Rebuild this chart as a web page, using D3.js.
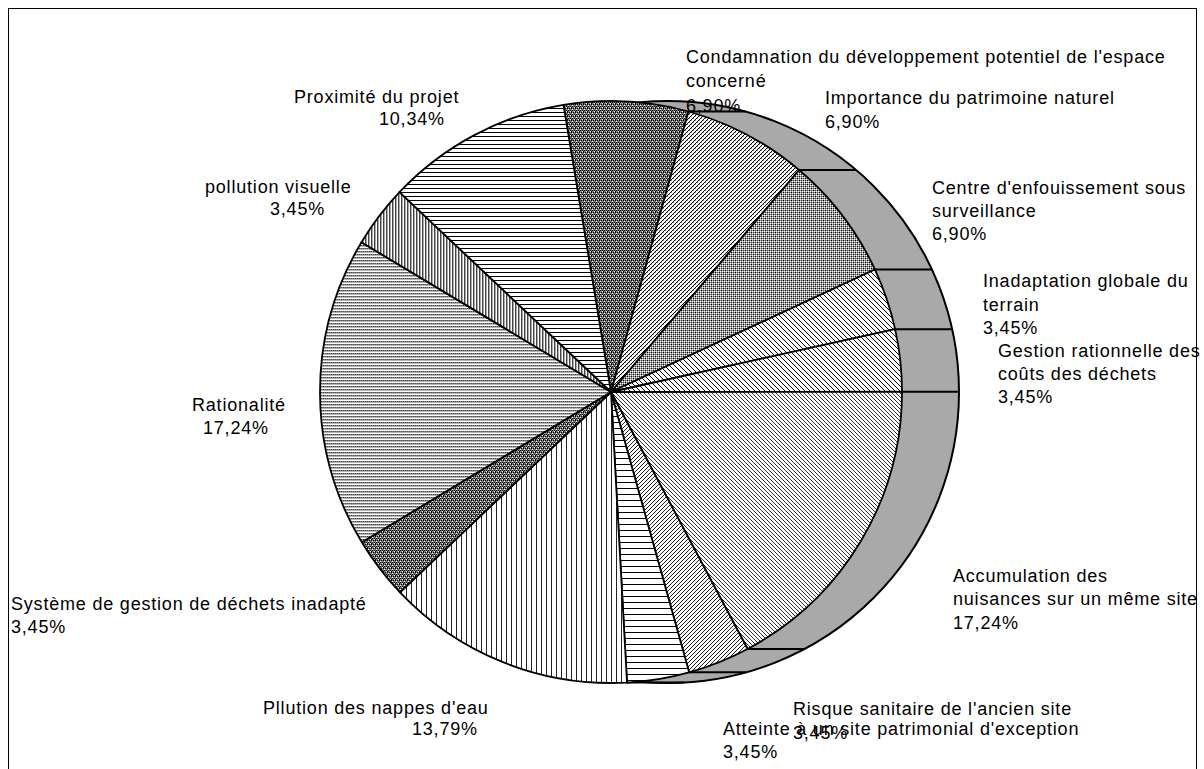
<!DOCTYPE html>
<html>
<head>
<meta charset="utf-8">
<script src="https://cdn.jsdelivr.net/npm/d3@7"></script>
<style>
  html, body { margin: 0; padding: 0; background: #fff; }
  svg { display: block; }
  .lbl { font-family: "Liberation Sans", Arial, sans-serif; font-size: 18px; letter-spacing: 0.8px; fill: #000; }
</style>
</head>
<body>
<svg id="chart" width="1204" height="769"></svg>
<script>
// ---- data ----------------------------------------------------------------
const categories = [
  "Condamnation du développement potentiel de l'espace concerné",
  "Importance du patrimoine naturel",
  "Centre d'enfouissement sous surveillance",
  "Inadaptation globale du terrain",
  "Gestion rationnelle des coûts des déchets",
  "Accumulation des nuisances sur un même site",
  "Risque sanitaire de l'ancien site",
  "Atteinte à un site patrimonial d'exception",
  "Pllution des nappes d'eau",
  "Système de gestion de déchets inadapté",
  "Rationalité",
  "pollution visuelle",
  "Proximité du projet"
];
const shares = [6.90, 6.90, 6.90, 3.45, 3.45, 17.24, 3.45, 3.45, 13.79, 3.45, 17.24, 3.45, 10.34];
// number of words kept on the first label line (rest wraps to a second line)
const firstLineWords = [6, 4, 3, 3, 3, 2, 5, 6, 4, 6, 1, 2, 3];

// ---- layout --------------------------------------------------------------
const W = 1204, H = 769;
const cx = 611, cy = 392, R = 291;     // pie face
const depth = 57;                       // horizontal extrusion of the side wall
const firstSliceDeg = -9.4;

// text line anchors: [x, baseline] for each text line, percentage last
const labelPos = [
  [[686, 63], [686, 87], [686, 111.5]],
  [[825, 103.5], [825, 127.5]],
  [[932, 193.5], [932, 216.5], [932, 240]],
  [[983, 287], [983, 310.5], [983, 334]],
  [[998, 356.5], [998, 380], [998, 403]],
  [[953, 581.5], [953, 605], [953, 628.5]],
  [[793, 715], [793, 738.5]],
  [[723, 734.5], [723, 757.5]],
  [[263, 713.5], [412, 735]],
  [[11, 610], [11, 633]],
  [[192, 411], [203, 434]],
  [[205, 192.5], [270, 214.5]],
  [[294, 102.5], [379, 124.5]]
];

// fill patterns: size, background and pixel rectangles [x, y, w, h, colour]
const diag = (n, up, col) => d3.range(n).map(i => [up ? n - 1 - i : i, i, 1, 1, col]);
const darkCheck = { w: 4, h: 4, bg: "#7a7a7a", px: [[0,0,1,1,"#000"],[2,0,1,1,"#000"],[1,2,1,1,"#000"],[3,2,1,1,"#000"],[0,3,1,1,"#000"],[1,1,1,1,"#fff"],[3,3,1,1,"#fff"]] };
const patternSpecs = [
  darkCheck,
  { w: 4, h: 4, bg: "#fff", px: diag(4, true, "#000").concat([[0,0,1,1,"#999"],[2,2,1,1,"#999"]]) },
  { w: 4, h: 4, bg: "#9a9a9a", px: [[0,0,1,1,"#000"],[2,2,1,1,"#000"],[2,0,1,1,"#444"],[0,2,1,1,"#444"],[1,1,1,1,"#fff"],[3,3,1,1,"#fff"],[1,3,1,1,"#fff"],[3,1,1,1,"#fff"]] },
  { w: 5, h: 5, bg: "#fff", px: diag(5, false, "#000") },
  { w: 5, h: 5, bg: "#fff", px: diag(5, false, "#000") },
  { w: 4, h: 4, bg: "#fff", px: diag(4, false, "#333") },
  { w: 4, h: 4, bg: "#fff", px: diag(4, true, "#222") },
  { w: 6, h: 6, bg: "#fff", px: [[0,0,6,1,"#000"]] },
  { w: 5, h: 5, bg: "#fff", px: [[0,0,1,5,"#222"]] },
  darkCheck,
  { w: 4, h: 3, bg: "#fff", px: [[0,0,1,1,"#444"],[1,0,1,1,"#888"],[2,0,1,1,"#444"],[3,0,1,1,"#888"],[0,1,4,1,"#b5b5b5"]] },
  { w: 3, h: 3, bg: "#fff", px: [[0,0,1,3,"#444"],[1,0,1,3,"#aaa"]] },
  { w: 4, h: 4, bg: "#fff", px: [[0,0,4,1,"#000"]] }
];

const fmtPct = v => d3.format(".2f")(v).replace(".", ",") + "%";

// ---- drawing -------------------------------------------------------------
const svg = d3.select("#chart");
const defs = svg.append("defs");

patternSpecs.forEach((p, i) => {
  const pat = defs.append("pattern")
    .attr("id", "fill" + i)
    .attr("patternUnits", "userSpaceOnUse")
    .attr("width", p.w).attr("height", p.h);
  pat.append("rect").attr("width", p.w).attr("height", p.h).attr("fill", p.bg);
  pat.selectAll("rect.px").data(p.px).join("rect")
    .attr("class", "px")
    .attr("x", d => d[0]).attr("y", d => d[1])
    .attr("width", d => d[2]).attr("height", d => d[3])
    .attr("fill", d => d[4])
    .attr("shape-rendering", "crispEdges");
});

// chart frame
svg.append("rect")
  .attr("x", 8.5).attr("y", 8.5).attr("width", 1188).attr("height", 800)
  .attr("fill", "none").attr("stroke", "#000").attr("stroke-width", 1);

const a0 = firstSliceDeg * Math.PI / 180;
const pie = d3.pie().sort(null).value(d => d).startAngle(a0).endAngle(a0 + 2 * Math.PI);
const arcs = pie(shares);
const arc = d3.arc().innerRadius(0).outerRadius(R);

// side wall of the disc, seen behind the face
svg.append("circle")
  .attr("cx", cx + depth).attr("cy", cy).attr("r", R)
  .attr("fill", "#a9a9a9").attr("stroke", "#000").attr("stroke-width", 2);

// slice edges running along the wall
svg.append("g").selectAll("line").data(arcs).join("line")
  .attr("x1", d => cx + R * Math.sin(d.startAngle))
  .attr("y1", d => cy - R * Math.cos(d.startAngle))
  .attr("x2", d => cx + R * Math.sin(d.startAngle) + depth)
  .attr("y2", d => cy - R * Math.cos(d.startAngle))
  .attr("stroke", "#000").attr("stroke-width", 2);

// face of the pie
svg.append("g").attr("transform", `translate(${cx},${cy})`)
  .selectAll("path").data(arcs).join("path")
  .attr("d", arc)
  .attr("fill", (d, i) => `url(#fill${i})`)
  .attr("stroke", "#000").attr("stroke-width", 1.8)
  .attr("stroke-linejoin", "round");

// data labels
const labels = svg.append("g");
arcs.forEach((d, i) => {
  const words = categories[i].split(" ");
  const lines = [words.slice(0, firstLineWords[i]).join(" ")];
  if (words.length > firstLineWords[i]) lines.push(words.slice(firstLineWords[i]).join(" "));
  lines.push(fmtPct(d.data));
  lines.forEach((t, k) => {
    const p = labelPos[i][k];
    labels.append("text").attr("class", "lbl")
      .attr("x", p[0]).attr("y", p[1]).text(t);
  });
});
</script>
</body>
</html>
